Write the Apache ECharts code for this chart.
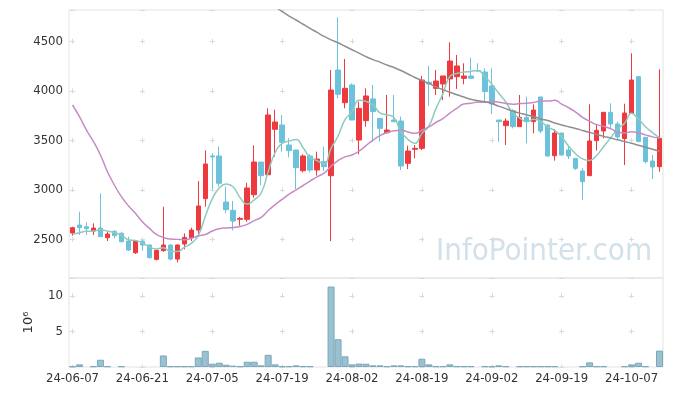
<!DOCTYPE html>
<html>
<head>
<meta charset="utf-8">
<script src="https://cdn.jsdelivr.net/npm/echarts/dist/echarts.min.js"></script>
<style>
html,body{margin:0;padding:0;background:#fff;}
#chart{width:673px;height:396px;}
</style>
</head>
<body>
<div id="chart"></div>
<script>
const dates = ['24-06-07','24-06-10','24-06-11','24-06-12','24-06-13','24-06-14','24-06-17','24-06-18','24-06-19','24-06-20',
'24-06-21','24-06-24','24-06-25','24-06-26','24-06-27','24-06-28','24-07-01','24-07-02','24-07-03','24-07-04',
'24-07-05','24-07-08','24-07-09','24-07-10','24-07-11','24-07-12','24-07-15','24-07-16','24-07-17','24-07-18',
'24-07-19','24-07-22','24-07-23','24-07-24','24-07-25','24-07-26','24-07-29','24-07-30','24-07-31','24-08-01',
'24-08-02','24-08-05','24-08-06','24-08-07','24-08-08','24-08-09','24-08-12','24-08-13','24-08-14','24-08-16',
'24-08-19','24-08-20','24-08-21','24-08-22','24-08-23','24-08-26','24-08-27','24-08-28','24-08-29','24-08-30',
'24-09-02','24-09-03','24-09-04','24-09-05','24-09-06','24-09-09','24-09-10','24-09-11','24-09-12','24-09-13',
'24-09-19','24-09-20','24-09-23','24-09-24','24-09-25','24-09-26','24-09-27','24-09-30','24-10-02','24-10-04',
'24-10-07','24-10-08','24-10-10','24-10-11','24-10-14'];

const open = [2564,2645,2628,2584,2614,2517,2581,2561,2483,2365,
2483,2443,2298,2386,2443,2301,2453,2517,2594,2911,
3342,3342,2877,2793,2702,2702,2951,3281,3153,3611,
3655,3453,3402,3194,3342,3200,3285,3143,4210,3880,
4059,3503,3699,3918,3722,3577,3705,3695,3268,3409,
3419,4086,4025,4069,4120,4143,4126,4150,4205,4190,
4049,3705,3648,3800,3638,3732,3689,3938,3655,3345,
3574,3402,3318,3190,3143,3497,3594,3783,3665,3517,
3773,4143,3530,3291,3234];

const close = [2618,2618,2608,2614,2527,2554,2537,2476,2392,2483,
2443,2315,2389,2443,2301,2443,2520,2594,2837,3261,
3332,3066,2800,2685,2712,3019,3281,3143,3756,3685,
3480,3396,3224,3342,3200,3311,3234,4008,3965,4025,
3705,3823,3948,3790,3621,3604,3688,3241,3392,3419,
4109,4069,4099,4150,4301,4251,4150,4126,4200,3992,
3867,3688,3695,3638,3732,3689,3806,3594,3342,3574,
3352,3342,3217,3082,3493,3601,3783,3665,3534,3776,
4109,3487,3285,3231,3520];

const low = [2537,2544,2544,2544,2527,2483,2510,2470,2386,2352,
2386,2308,2288,2375,2288,2268,2399,2483,2544,2830,
3005,3032,2763,2591,2638,2678,2921,3049,3153,3335,
3386,3328,3008,3177,3177,3143,3190,2483,3924,3823,
3705,3359,3638,3487,3487,3577,3688,3200,3210,3318,
3402,3847,3958,3907,3941,4019,4066,4126,4190,3891,
3763,3487,3453,3621,3638,3470,3571,3571,3335,3295,
3345,3311,3200,2897,3143,3396,3520,3614,3503,3251,
3773,3487,3268,3109,3183];

const high = [2628,2779,2672,2662,2965,2577,2594,2577,2527,2493,
2493,2449,2399,2830,2449,2449,2561,2618,3089,3399,
3369,3436,3032,2887,2726,3072,3449,3281,3823,3810,
3756,3520,3402,3359,3359,3386,3436,4210,4742,4322,
4076,3891,4025,4059,3722,3958,3958,3739,3446,3453,
4150,4251,4210,4150,4490,4362,4278,4335,4278,4227,
4227,3705,3722,3813,3958,3941,3864,3938,3655,3614,
3574,3436,3318,3217,3864,3655,3783,3874,3689,3870,
4379,4143,3530,3352,4217];

// volume in millions (10^6)
const volume = [0.1,0.37,0,0.1,1.02,0.1,0,0.1,0,0,
0,0,0,1.62,0.1,0.1,0.1,0.1,1.34,2.27,
0.46,0.6,0.32,0.19,0.1,0.74,0.74,0.23,1.71,0.37,
0.1,0.1,0.23,0.1,0.1,0,0,11.3,3.9,1.5,
0.37,0.48,0.46,0.23,0.23,0.1,0.23,0.23,0.1,0.1,
1.16,0.37,0.1,0.1,0.37,0.1,0.1,0.1,0,0.1,
0.1,0.23,0.1,0,0.1,0.1,0.1,0.1,0.1,0.1,
0,0,0,0.1,0.65,0.1,0.1,0,0,0.1,
0.37,0.6,0.1,0,2.3];

const ma5 = [2554,2567,2581,2584,2597,2584,2568,2542,2497,2488,
2466,2422,2404,2415,2378,2378,2419,2460,2539,2731,
2909,3018,3059,3029,2919,2856,2899,2968,3182,3377,
3469,3492,3508,3425,3328,3295,3262,3419,3544,3709,
3787,3905,3893,3858,3777,3757,3730,3589,3509,3469,
3570,3646,3818,3969,4146,4174,4190,4196,4206,4144,
4067,3975,3888,3776,3724,3688,3712,3692,3633,3601,
3534,3441,3365,3313,3297,3347,3435,3525,3615,3672,
3773,3714,3638,3578,3526];

const ma20 = [3857,3739,3604,3487,3352,3183,3049,2931,2840,2763,
2678,2611,2551,2520,2503,2500,2497,2510,2535,2549,
2584,2607,2616,2620,2629,2652,2690,2723,2791,2851,
2903,2957,2999,3044,3089,3132,3168,3239,3295,3333,
3352,3390,3447,3502,3548,3577,3597,3602,3584,3571,
3602,3636,3680,3720,3775,3822,3868,3874,3886,3884,
3892,3885,3873,3865,3871,3875,3881,3898,3896,3904,
3866,3829,3785,3732,3692,3659,3641,3618,3584,3574,
3586,3576,3555,3535,3524];

const ma60 = ['-','-','-','-','-','-','-','-','-','-',
'-','-','-','-','-','-','-','-','-','-',
'-','-','-','-','-','-','-','-','-',4850,
4800,4755,4715,4672,4630,4590,4550,4515,4485,4450,
4415,4380,4345,4315,4290,4260,4235,4205,4170,4135,
4105,4075,4040,4012,3985,3960,3937,3915,3900,3890,
3872,3845,3820,3795,3775,3756,3740,3716,3700,3675,
3655,3638,3620,3600,3580,3560,3540,3523,3505,3487,
3470,3450,3430,3410,3390];

const UP = '#ee3a3f', DOWN = '#6cc2da';
const FONT = '"DejaVu Sans Condensed", "Liberation Sans", sans-serif';
const cross = '#d9d9d9';
const plain = v => String(v);

const chart = echarts.init(document.getElementById('chart'), null, {renderer: 'canvas'});
chart.setOption({
  animation: false,
  backgroundColor: '#fff',
  graphic: [{
    type: 'text', left: 436, top: 236, z: 0, silent: true,
    style: {text: 'InfoPointer.com', font: '31px "DejaVu Sans Condensed", "Noto Sans"', fill: '#d2e1ea'}
  }],
  grid: [
    {left: 69, right: 10, top: 10, height: 268, show: true, borderColor: '#e3e3e3', borderWidth: 1, backgroundColor: 'transparent'},
    {left: 69, right: 10, top: 278, height: 89, show: true, borderColor: '#e3e3e3', borderWidth: 1, backgroundColor: 'transparent'}
  ],
  xAxis: [
    {type: 'category', gridIndex: 0, data: dates, boundaryGap: true,
     axisLine: {show: false}, axisTick: {show: false}, axisLabel: {show: false},
     splitLine: {show: true, interval: 9, alignWithLabel: true,
       lineStyle: {color: cross, width: 1, type: [5, 44.52], dashOffset: 20.7}}},
    {type: 'category', gridIndex: 1, data: dates, boundaryGap: true,
     axisLine: {show: false}, axisTick: {show: false},
     axisLabel: {interval: 9, color: '#333', fontSize: 13, fontFamily: FONT, margin: 5},
     splitLine: {show: true, interval: 9, alignWithLabel: true,
       lineStyle: {color: cross, width: 1, type: [5, 30.6], dashOffset: 20.3}}}
  ],
  yAxis: [
    {type: 'value', gridIndex: 0, min: 2110, max: 4816, splitNumber: 5, scale: true,
     axisLine: {show: false}, axisTick: {show: false},
     axisLabel: {color: '#333', fontSize: 13, fontFamily: FONT, margin: 6, showMinLabel: false, showMaxLabel: false, formatter: plain},
     splitLine: {show: true, lineStyle: {color: cross, width: 1, type: [5, 64.88], dashOffset: 68.89}}},
    {type: 'value', gridIndex: 1, min: 0, max: 12.5, interval: 5,
     name: '10\u2076', nameLocation: 'middle', nameGap: 34, nameRotate: 90,
     nameTextStyle: {color: '#333', fontSize: 13, fontFamily: 'DejaVu Sans'},
     axisLine: {show: false}, axisTick: {show: false},
     axisLabel: {color: '#333', fontSize: 13, fontFamily: FONT, margin: 6, showMinLabel: false, showMaxLabel: false, formatter: plain},
     splitLine: {show: true, lineStyle: {color: cross, width: 1, type: [5, 64.88], dashOffset: 68.89}}}
  ],
  series: [
    {type: 'candlestick', xAxisIndex: 0, yAxisIndex: 0, barWidth: 5, z: 2,
     data: dates.map((d, i) => [open[i], close[i], low[i], high[i]]),
     itemStyle: {color: UP, color0: DOWN, borderColor: UP, borderColor0: DOWN, borderWidth: 1}},
    {type: 'line', xAxisIndex: 0, yAxisIndex: 0, data: ma5, smooth: true, showSymbol: false, z: 3,
     lineStyle: {color: '#8ccbbd', width: 1.5}},
    {type: 'line', xAxisIndex: 0, yAxisIndex: 0, data: ma20, smooth: true, showSymbol: false, z: 3,
     lineStyle: {color: '#c68bc6', width: 1.5}},
    {type: 'line', xAxisIndex: 0, yAxisIndex: 0, data: ma60, smooth: true, showSymbol: false, z: 3, clip: true,
     lineStyle: {color: '#8f8f8f', width: 1.5}},
    {type: 'bar', xAxisIndex: 1, yAxisIndex: 1, barCategoryGap: '0%', z: 2,
     data: volume.map(v => v === 0 ? '-' : v),
     itemStyle: {color: '#99c1d2', borderColor: '#7aa7bb', borderWidth: 1}}
  ]
});
</script>
</body>
</html>
